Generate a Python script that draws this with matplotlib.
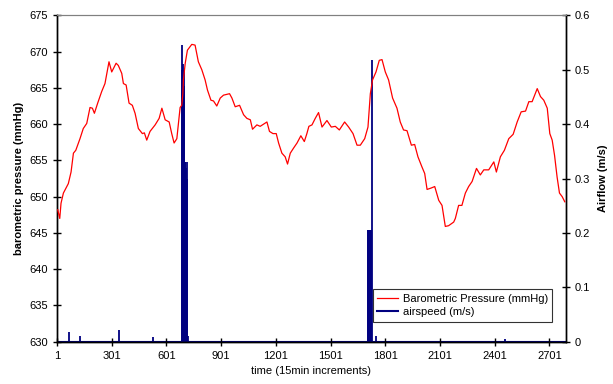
import matplotlib
matplotlib.use("Agg")
import numpy as np
import matplotlib.pyplot as plt

plt.rcParams['font.family'] = ['Liberation Sans', 'DejaVu Sans']

# barometric pressure (time index, mmHg)
t_pres = [5, 16, 23, 36, 63, 78, 91, 104, 127, 145, 164, 182, 195, 206, 224, 246, 264, 274,
          286, 301, 325, 337, 356, 365, 380, 396, 414, 429, 447, 469, 480, 493, 511, 539,
          561, 576, 594, 616, 630, 643, 658, 667, 676, 685, 691, 694, 704, 716, 740, 758,
          776, 795, 813, 826, 845, 859, 877, 896, 914, 947, 960, 978, 1002, 1024, 1042,
          1061, 1073, 1097, 1115, 1133, 1152, 1166, 1185, 1203, 1216, 1234, 1252, 1265,
          1280, 1298, 1317, 1338, 1357, 1371, 1382, 1399, 1417, 1435, 1454, 1481, 1505,
          1527, 1549, 1578, 1600, 1624, 1646, 1664, 1688, 1706, 1719, 1731, 1750, 1768,
          1783, 1801, 1819, 1841, 1865, 1883, 1901, 1920, 1944, 1962, 1980, 2002, 2017,
          2030, 2053, 2072, 2094, 2112, 2130, 2148, 2176, 2185, 2203, 2221, 2240, 2258,
          2277, 2301, 2322, 2341, 2368, 2396, 2410, 2432, 2454, 2478, 2502, 2524, 2546,
          2570, 2588, 2606, 2634, 2652, 2670, 2689, 2703, 2716, 2729, 2743, 2756, 2771, 2785]
pressure = [648.2, 647.0, 649.1, 650.5, 651.8, 653.4, 656.0, 656.4, 658.0, 659.4, 660.1,
            662.3, 662.2, 661.5, 662.9, 664.5, 665.6, 667.0, 668.6, 667.2, 668.4, 668.1,
            667.0, 665.6, 665.4, 662.9, 662.6, 661.5, 659.4, 658.7, 658.8, 657.8, 659.0,
            659.9, 660.8, 662.2, 660.6, 660.3, 658.7, 657.4, 658.0, 660.1, 662.3, 662.6,
            664.2, 666.1, 668.4, 670.2, 671.0, 670.9, 668.6, 667.5, 666.1, 664.7, 663.3,
            663.2, 662.5, 663.6, 664.0, 664.2, 663.6, 662.4, 662.6, 661.3, 660.8, 660.6,
            659.3, 659.9, 659.7, 660.0, 660.3, 659.0, 658.7, 658.7, 657.4, 656.0, 655.5,
            654.5, 656.0, 656.7, 657.4, 658.4, 657.6, 658.7, 659.7, 659.9, 660.8, 661.6,
            659.6, 660.5, 659.6, 659.7, 659.2, 660.3, 659.6, 658.7, 657.1, 657.1, 658.0,
            659.6, 664.2, 666.1, 667.2, 668.8, 668.9, 667.2, 666.1, 663.6, 662.2, 660.3,
            659.2, 659.1, 657.1, 657.2, 655.5, 654.1, 653.2, 651.0, 651.2, 651.4, 649.5,
            648.8, 645.9, 646.0, 646.5, 647.0, 648.8, 648.8, 650.5, 651.4, 652.1, 653.9,
            653.0, 653.7, 653.7, 654.8, 653.4, 655.5, 656.4, 658.0, 658.6, 660.3, 661.7,
            661.8, 663.1, 663.1, 664.9, 663.8, 663.3, 662.2, 658.7, 657.8, 655.7, 652.7,
            650.5, 650.0, 649.3]

# airspeed spikes (time index, m/s); zero everywhere else
t_air = [67, 127, 341, 528, 684, 687, 690, 693, 696, 699, 702, 705, 708, 711, 714, 720,
         1704, 1708, 1712, 1716, 1720, 1723, 1726, 1752, 2460]
airspeed = [0.018, 0.010, 0.021, 0.009, 0.545, 0.50, 0.51, 0.49, 0.50, 0.47, 0.33, 0.33,
            0.32, 0.33, 0.30, 0.011,
            0.205, 0.205, 0.205, 0.205, 0.205, 0.205, 0.518, 0.011, 0.005]

n_points = 2790
xticks = [1, 301, 601, 901, 1201, 1501, 1801, 2101, 2401, 2701]

fig = plt.figure(figsize=(6.13, 3.84), dpi=100)
ax = fig.add_axes([0.093, 0.110, 0.8298, 0.850])
ax2 = ax.twinx()

ax.plot(t_pres, pressure, color='#FF0000', lw=0.9, label='Barometric Pressure (mmHg)', zorder=3)
ax2.vlines(t_air, 0, airspeed, color='#000080', lw=1.3)
ax2.plot([1, n_points], [0, 0], color='#000080', lw=1.5, label='airspeed (m/s)')

ax.set_xlim(1, n_points)
ax.set_ylim(630, 675)
ax2.set_ylim(0, 0.6)
ax.set_xticks(xticks)
ax.set_yticks(np.arange(630, 676, 5))
ax2.set_yticks([0, 0.1, 0.2, 0.3, 0.4, 0.5, 0.6])
ax2.set_yticklabels(['0', '0.1', '0.2', '0.3', '0.4', '0.5', '0.6'])

ax.set_zorder(ax2.get_zorder() + 1)
ax.patch.set_visible(False)

for a in (ax, ax2):
    a.tick_params(direction='inout', length=6, width=1, labelsize=8, colors='black')
    a.spines['top'].set_color('#808080')
    a.spines['top'].set_linewidth(0.8)
    a.spines['left'].set_linewidth(1.0)
    a.spines['right'].set_linewidth(1.0)
    a.spines['bottom'].set_linewidth(1.0)

ax.set_xlabel('time (15min increments)', fontsize=8)
ax.set_ylabel('barometric pressure (mmHg)', fontsize=8, fontweight='bold')
ax2.set_ylabel('Airflow (m/s)', fontsize=8, fontweight='bold', labelpad=6)

h1, l1 = ax.get_legend_handles_labels()
h2, l2 = ax2.get_legend_handles_labels()
leg = ax.legend(h1 + h2, l1 + l2, loc='lower right', bbox_to_anchor=(0.985, 0.045),
                fontsize=8, frameon=True, fancybox=False, borderpad=0.4,
                handlelength=1.9, handletextpad=0.4, labelspacing=0.3)
leg.get_frame().set_edgecolor('black')
leg.get_frame().set_linewidth(0.8)

fig.savefig('out.png', dpi=100)
